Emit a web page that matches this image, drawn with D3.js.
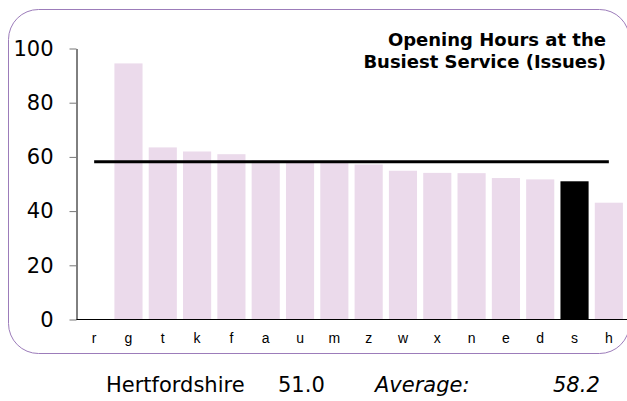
<!DOCTYPE html>
<html>
<head>
<meta charset="utf-8">
<script src="https://cdn.jsdelivr.net/npm/d3@7"></script>
<style>
  body { margin: 0; background: #fff; }
  svg { display: block; }
</style>
</head>
<body>
<script>
// chart data
var categories = ["r", "g", "t", "k", "f", "a", "u", "m", "z", "w", "x", "n", "e", "d", "s", "h"];
var values = [null, 94.5, 63.5, 62.0, 61.0, 58.8, 58.1, 57.8, 57.2, 54.9, 54.1, 54.0, 52.2, 51.7, 51.0, 43.1];
var yTicks = [0, 20, 40, 60, 80, 100];
var highlight = "s";
var highlightName = "Hertfordshire";
var average = 58.2;
var titleLines = ["Opening Hours at the", "Busiest Service (Issues)"];

var width = 627, height = 401;

var svg = d3.select("body").append("svg")
    .attr("width", width)
    .attr("height", height);

// rounded frame
svg.append("rect")
    .attr("x", 8.5).attr("y", 9.5)
    .attr("width", 621).attr("height", 344)
    .attr("rx", 30).attr("ry", 30)
    .attr("fill", "none")
    .attr("stroke", "#9c7cba")
    .attr("stroke-width", 1);

var x = d3.scaleBand()
    .domain(categories)
    .range([77, 626])
    .paddingInner(0.18)
    .paddingOuter(0.09);

var y = d3.scaleLinear()
    .domain([0, 100])
    .range([319.5, 48.5]);

var rows = categories.map(function(c, i) { return {cat: c, val: values[i]}; });

// bars
svg.append("g").selectAll("rect")
    .data(rows.filter(function(d) { return d.val != null; }))
    .enter().append("rect")
    .attr("x", function(d) { return x(d.cat); })
    .attr("y", function(d) { return y(d.val); })
    .attr("width", x.bandwidth())
    .attr("height", function(d) { return y(0) - y(d.val); })
    .attr("fill", function(d) { return d.cat == highlight ? "#000" : "#ebdaeb"; });

// average line
svg.append("line")
    .attr("x1", x(categories[0]) + x.bandwidth() / 2)
    .attr("x2", x(categories[categories.length - 1]) + x.bandwidth() / 2)
    .attr("y1", y(average)).attr("y2", y(average))
    .attr("stroke", "#000")
    .attr("stroke-width", 3);

// y axis
var yAxis = svg.append("g")
    .attr("transform", "translate(76.5,0)")
    .call(d3.axisLeft(y).tickValues(yTicks).tickSize(7).tickSizeOuter(0).tickPadding(16));
yAxis.select(".domain").attr("stroke", "#000");
yAxis.selectAll(".tick line").attr("stroke", "#777");
yAxis.selectAll("text")
    .attr("font-family", "DejaVu Sans, Verdana, sans-serif")
    .attr("font-size", 21)
    .attr("fill", "#000");

// x axis
var xAxis = svg.append("g")
    .attr("transform", "translate(0,319.5)")
    .call(d3.axisBottom(x).tickSize(0).tickPadding(14));
xAxis.select(".domain").attr("stroke", "#000").attr("d", "M76.5,0H627");
xAxis.selectAll("text")
    .attr("font-family", "Liberation Sans, Arial, sans-serif")
    .attr("font-size", 14)
    .attr("fill", "#000");

// title
svg.append("g").selectAll("text")
    .data(titleLines)
    .enter().append("text")
    .attr("x", 606)
    .attr("y", function(d, i) { return 46 + i * 22; })
    .attr("text-anchor", "end")
    .attr("font-family", "DejaVu Sans, Verdana, sans-serif")
    .attr("font-weight", "bold")
    .attr("font-size", 18)
    .text(function(d) { return d; });

// footer
var footer = svg.append("g")
    .attr("font-family", "DejaVu Sans, Verdana, sans-serif")
    .attr("font-size", 21)
    .attr("fill", "#000");
var hv = values[categories.indexOf(highlight)];
footer.append("text").attr("x", 106).attr("y", 392).text(highlightName);
footer.append("text").attr("x", 278).attr("y", 392).text(hv.toFixed(1));
footer.append("text").attr("x", 375).attr("y", 392).attr("font-style", "italic").text("Average:");
footer.append("text").attr("x", 553).attr("y", 392).attr("font-style", "italic").text(average.toFixed(1));
</script>
</body>
</html>
